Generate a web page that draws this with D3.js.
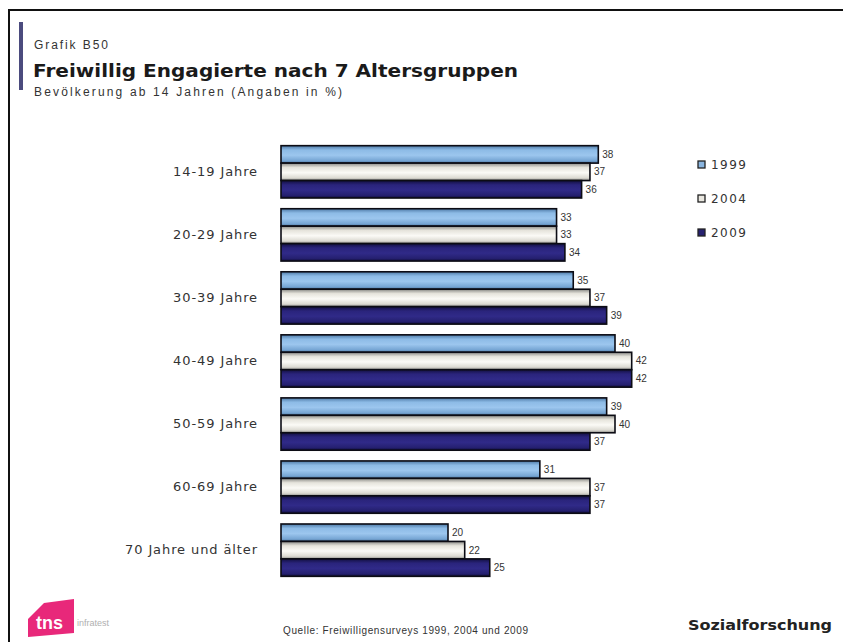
<!DOCTYPE html>
<html>
<head>
<meta charset="utf-8">
<script src="https://cdn.jsdelivr.net/npm/d3@7"></script>
<style>
  html, body { margin: 0; padding: 0; background: #fff; }
  svg { display: block; }
</style>
</head>
<body>
<svg id="chart" width="843" height="642"></svg>
<script>
// Altersgruppen und Werte (Angaben in %)
const categories = ["14-19 Jahre", "20-29 Jahre", "30-39 Jahre", "40-49 Jahre", "50-59 Jahre", "60-69 Jahre", "70 Jahre und älter"];
const seriesNames = ["1999", "2004", "2009"];
const values1999 = [38, 33, 35, 40, 39, 31, 20];
const values2004 = [37, 33, 37, 42, 40, 37, 22];
const values2009 = [36, 34, 39, 42, 37, 37, 25];

const seriesValues = [values1999, values2004, values2009];
const rows = categories.map((c, i) => ({
  cat: c,
  vals: seriesNames.map((s, j) => ({ series: s, value: seriesValues[j][i] }))
}));

const WIDE = "'DejaVu Sans', Verdana, sans-serif";
const ARIAL = "'Liberation Sans', Arial, sans-serif";

const svg = d3.select("#chart");
const W = 843, H = 642;

// Rahmen
svg.append("rect").attr("x", 0).attr("y", 0).attr("width", W).attr("height", H).attr("fill", "#fff");
svg.append("path")
  .attr("d", `M9,${H + 5} L9,10 L${W + 5},10`)
  .attr("fill", "none").attr("stroke", "#111").attr("stroke-width", 2);

// Akzentbalken links vom Titel
svg.append("rect").attr("x", 19).attr("y", 22).attr("width", 4).attr("height", 68).attr("fill", "#4b4b7e");

// Titelblock
svg.append("text").attr("x", 34).attr("y", 49).style("font-family", ARIAL).style("font-size", "12px")
  .attr("fill", "#333").attr("textLength", 74).attr("lengthAdjust", "spacing").text("Grafik B50");
svg.append("text").attr("x", 33).attr("y", 77).style("font-family", WIDE).style("font-size", "18.5px")
  .style("font-weight", "bold").attr("fill", "#1a1a1a")
  .attr("textLength", 485).attr("lengthAdjust", "spacingAndGlyphs")
  .text("Freiwillig Engagierte nach 7 Altersgruppen");
svg.append("text").attr("x", 34).attr("y", 96).style("font-family", ARIAL).style("font-size", "12px")
  .attr("fill", "#333").attr("textLength", 308).attr("lengthAdjust", "spacing")
  .text("Bevölkerung ab 14 Jahren (Angaben in %)");

// Farbverläufe für die Balken
const defs = svg.append("defs");
const gradStops = {
  "1999": [["0%", "#4d79a6"], ["25%", "#8dbbe6"], ["55%", "#9cc6ee"], ["85%", "#77a6d4"], ["100%", "#4f78a2"]],
  "2004": [["0%", "#8a8a86"], ["25%", "#e6e4dc"], ["55%", "#fbfaf6"], ["85%", "#dcdad2"], ["100%", "#8c8c88"]],
  "2009": [["0%", "#120f40"], ["25%", "#2a247c"], ["55%", "#302a88"], ["85%", "#252070"], ["100%", "#100d3a"]]
};
seriesNames.forEach(s => {
  const g = defs.append("linearGradient").attr("id", "g" + s).attr("x1", 0).attr("y1", 0).attr("x2", 0).attr("y2", 1);
  gradStops[s].forEach(([o, c]) => g.append("stop").attr("offset", o).attr("stop-color", c));
});
const legendFill = { "1999": "#8ab5df", "2004": "#e9e7e0", "2009": "#26216f" };

// Skalen
const x = d3.scaleLinear().domain([0, 50]).range([281, 281 + 8.35 * 50]);
const y = d3.scaleBand().domain(categories).range([140, 582]).paddingInner(0.17).paddingOuter(0.09);
const ySub = d3.scaleBand().domain(seriesNames).range([0, y.bandwidth()]);

// Kategorienachse (nur Beschriftungen)
const yAxis = d3.axisLeft(y).tickSize(0).tickPadding(0);
const axisG = svg.append("g").attr("transform", "translate(258,0)").call(yAxis);
axisG.select(".domain").remove();
axisG.selectAll("text")
  .style("font-family", WIDE).style("font-size", "13px").style("letter-spacing", "0.9px")
  .attr("fill", "#333");

// Balken
const groups = svg.append("g").selectAll("g").data(rows).join("g")
  .attr("transform", d => `translate(0,${y(d.cat)})`);

groups.selectAll("rect").data(d => d.vals).join("rect")
  .attr("x", x(0))
  .attr("y", d => ySub(d.series))
  .attr("width", d => x(d.value) - x(0))
  .attr("height", ySub.bandwidth())
  .attr("fill", d => `url(#g${d.series})`)
  .attr("stroke", "#0c0c14").attr("stroke-width", 1.6);

// Wertebeschriftungen
groups.selectAll("text").data(d => d.vals).join("text")
  .attr("x", d => x(d.value) + 4)
  .attr("y", d => ySub(d.series) + ySub.bandwidth() / 2)
  .attr("dy", "0.35em")
  .style("font-family", ARIAL).style("font-size", "10px").attr("fill", "#333")
  .text(d => d.value);

// Legende
const legend = svg.append("g").selectAll("g").data(seriesNames).join("g")
  .attr("transform", (d, i) => `translate(698,${161 + i * 34})`);
legend.append("rect").attr("width", 7).attr("height", 7)
  .attr("fill", d => legendFill[d]).attr("stroke", "#222").attr("stroke-width", 1.3);
legend.append("text").attr("x", 13).attr("y", 3.5).attr("dy", "0.35em")
  .style("font-family", WIDE).style("font-size", "12px").attr("fill", "#333")
  .attr("textLength", 35).attr("lengthAdjust", "spacing").text(d => d);

// Logo unten links
svg.append("path")
  .attr("d", "M44,603 L74,599 L74,633 L28,637 L28,619 Z")
  .attr("fill", "#e8287a");
svg.append("text").attr("x", 36).attr("y", 629).style("font-family", ARIAL).style("font-size", "18px")
  .style("font-weight", "bold").attr("fill", "#fff").text("tns");
svg.append("text").attr("x", 77).attr("y", 626).style("font-family", ARIAL).style("font-size", "9px")
  .attr("fill", "#b0b0b0").text("infratest");

// Quelle
svg.append("text").attr("x", 283).attr("y", 634)
  .style("font-family", ARIAL).style("font-size", "10px").attr("fill", "#333")
  .attr("textLength", 245).attr("lengthAdjust", "spacing")
  .text("Quelle: Freiwilligensurveys 1999, 2004 und 2009");

// Fußzeile rechts
svg.append("text").attr("x", 688).attr("y", 630)
  .style("font-family", WIDE).style("font-size", "14px").style("font-weight", "bold").attr("fill", "#222")
  .attr("textLength", 144).attr("lengthAdjust", "spacingAndGlyphs").text("Sozialforschung");
</script>
</body>
</html>
